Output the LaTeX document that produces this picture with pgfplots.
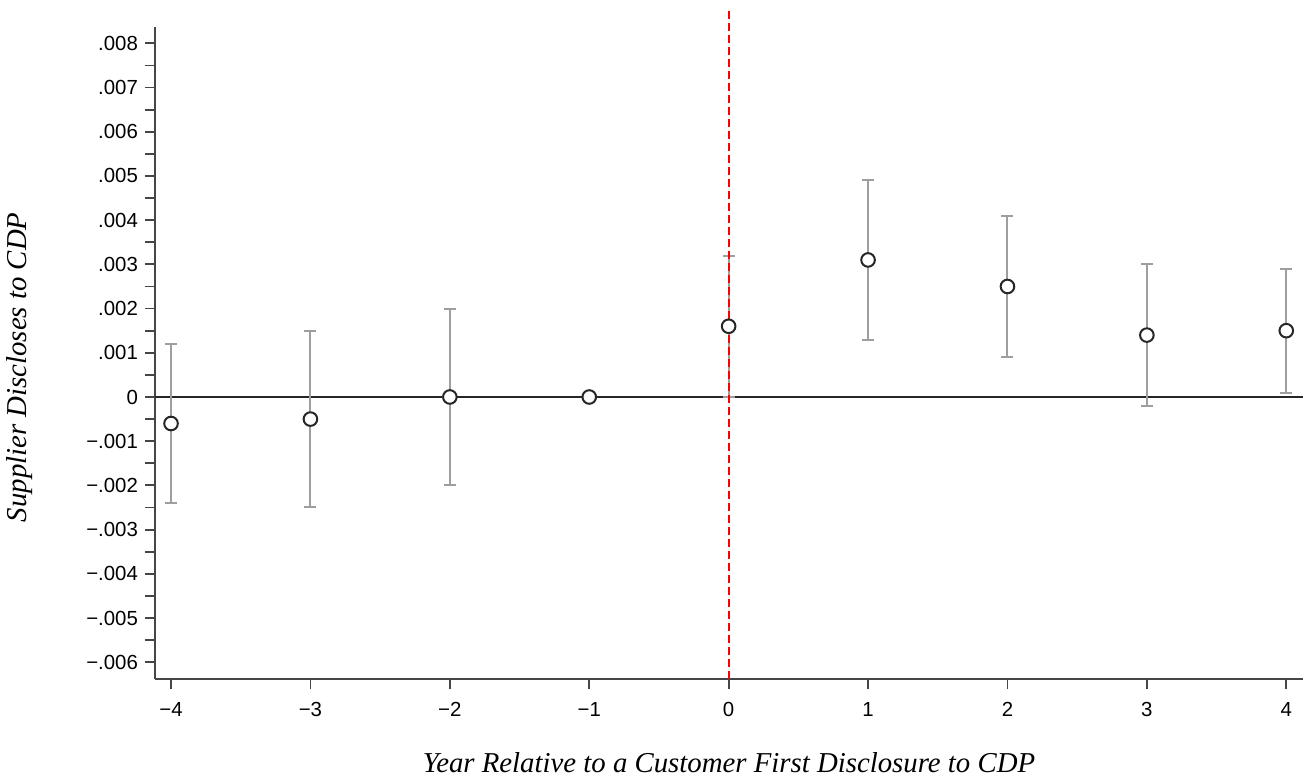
\documentclass[border=0pt]{standalone}
\usepackage{pgfplots}
\pgfplotsset{compat=1.18}
\usepackage{fontspec}
\setmainfont{Liberation Serif}
\newfontfamily\arial{Liberation Sans}
\definecolor{cigray}{RGB}{158,158,158}
\definecolor{axgray}{RGB}{70,70,70}
\newcommand{\mn}{\char"2212\relax}
\pgfplotstableread{
x y e
-4 -0.0006 0.0018
-3 -0.0005 0.0020
-2 0.0000 0.0020
0 0.0016 0.0016
1 0.0031 0.0018
2 0.0025 0.0016
3 0.0014 0.0016
4 0.0015 0.0014
}\ci
\pgfplotstableread{
x y
-4 -0.0006
-3 -0.0005
-2 0.0000
-1 0.0000
0 0.0016
1 0.0031
2 0.0025
3 0.0014
4 0.0015
}\pts
\begin{document}
\begin{tikzpicture}
\begin{axis}[
  width=574pt, height=326pt, scale only axis,
  xmin=-4.115, xmax=4.12, ymin=-0.00638, ymax=0.00837,
  axis lines=left,
  axis line style={-, draw=axgray, line width=0.9pt},
  clip=false,
  xtick={-4,-3,-2,-1,0,1,2,3,4},
  xticklabels={\mn4,\mn3,\mn2,\mn1,0,1,2,3,4},
  ytick={-0.006,-0.005,-0.004,-0.003,-0.002,-0.001,0,0.001,0.002,0.003,0.004,0.005,0.006,0.007,0.008},
  yticklabels={\mn.006,\mn.005,\mn.004,\mn.003,\mn.002,\mn.001,0,.001,.002,.003,.004,.005,.006,.007,.008},
  minor ytick={-0.0055,-0.0045,-0.0035,-0.0025,-0.0015,-0.0005,0.0005,0.0015,0.0025,0.0035,0.0045,0.0055,0.0065,0.0075},
  scaled y ticks=false,
  tick align=outside,
  major tick length=5pt, minor tick length=5pt,
  every tick/.style={draw=axgray, line width=0.9pt},
  tick label style={font=\arial\fontsize{10.2}{12}\selectfont},
  xticklabel style={yshift=-3pt},
  xlabel={\itshape Year Relative to a Customer First Disclosure to CDP},
  ylabel={\itshape Supplier Discloses to CDP},
  every axis x label/.style={at={([yshift=-42pt]axis description cs:0.5,0)}, anchor=center, inner sep=0pt, font=\fontsize{14.4}{17}\selectfont},
  every axis y label/.style={at={([xshift=-67.5pt]axis description cs:0,0.478)}, rotate=90, anchor=center, inner sep=0pt, font=\fontsize{14.4}{17}\selectfont},
]
\addplot[black!85, line width=0.6pt, mark=none] coordinates {(-4.115,0) (4.12,0)};
\addplot[draw=none, no markers,
  error bars/.cd, y dir=both, y explicit,
  error bar style={draw=cigray, line width=1pt},
  error mark options={rotate=90, mark size=3pt, draw=cigray, line width=1pt}]
  table[x=x, y=y, y error=e] {\ci};
\addplot[only marks, mark=*, mark size=3.4pt, line width=1pt,
  mark options={solid, fill=white, draw=black!85, line width=1pt}]
  table[x=x, y=y] {\pts};
\addplot[red, line width=1pt, dash pattern=on 4pt off 2pt, mark=none] coordinates {(0,-0.00638) (0,0.0088)};
\end{axis}
\path ([shift={(-77.5pt,-50.5pt)}]current axis.south west) rectangle ([shift={(1.5pt,13.5pt)}]current axis.north east);
\end{tikzpicture}
\end{document}
